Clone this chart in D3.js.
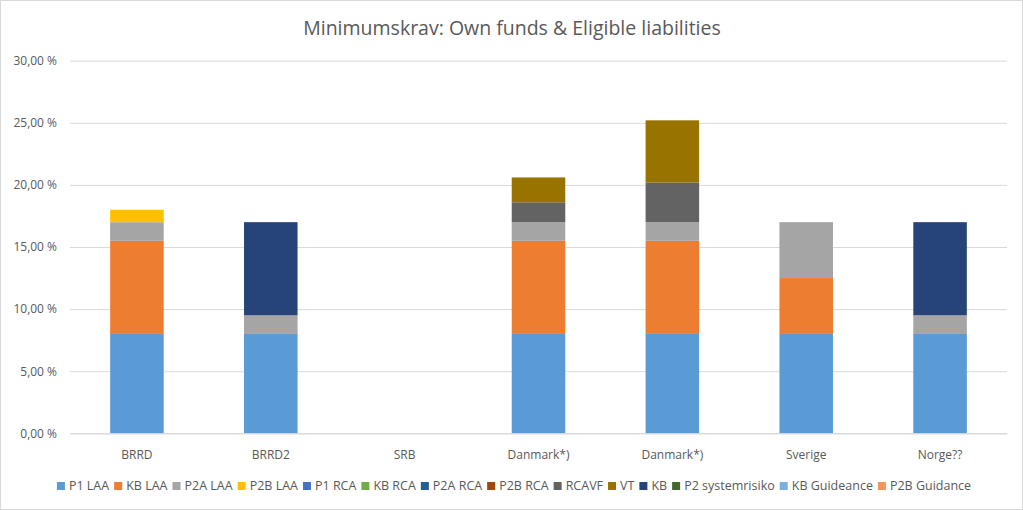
<!DOCTYPE html>
<html><head><meta charset="utf-8">
<script src="https://cdn.jsdelivr.net/npm/d3@7"></script>
<style>body{margin:0;background:#fff}svg{display:block}text{font-family:"Open Sans","Liberation Sans",sans-serif;fill:#595959}</style>
</head><body><svg id="c" width="1023" height="510"></svg>
<script>
const categories = ["BRRD","BRRD2","SRB","Danmark*)","Danmark*)","Sverige","Norge??"];
const seriesNames = ["P1 LAA","KB LAA","P2A LAA","P2B LAA","P1 RCA","KB RCA","P2A RCA","P2B RCA","RCAVF","VT","KB","P2 systemrisiko","KB Guideance","P2B Guidance"];
const seriesColors = ["#5B9BD5","#ED7D31","#A5A5A5","#FFC000","#4472C4","#70AD47","#255E91","#9E480E","#636363","#997300","#264478","#43682B","#7CAFDD","#F1975A"];
// values in %, per series, per category
const P1_LAA  = [8, 8, 0, 8, 8, 8, 8];
const KB_LAA  = [7.5, 0, 0, 7.5, 7.5, 4.5, 0];
const P2A_LAA = [1.5, 1.5, 0, 1.5, 1.5, 4.5, 1.5];
const P2B_LAA = [1, 0, 0, 0, 0, 0, 0];
const P1_RCA  = [0, 0, 0, 0, 0, 0, 0];
const KB_RCA  = [0, 0, 0, 0, 0, 0, 0];
const P2A_RCA = [0, 0, 0, 0, 0, 0, 0];
const P2B_RCA = [0, 0, 0, 0, 0, 0, 0];
const RCAVF   = [0, 0, 0, 1.6, 3.2, 0, 0];
const VT      = [0, 0, 0, 2.0, 5.0, 0, 0];
const KB      = [0, 7.5, 0, 0, 0, 0, 7.5];
const P2_SYS  = [0, 0, 0, 0, 0, 0, 0];
const KB_GUID = [0, 0, 0, 0, 0, 0, 0];
const P2B_GUID= [0, 0, 0, 0, 0, 0, 0];
const yTicks = [0,5,10,15,20,25,30];
const title = "Minimumskrav: Own funds & Eligible liabilities";

const seriesValues = [P1_LAA,KB_LAA,P2A_LAA,P2B_LAA,P1_RCA,KB_RCA,P2A_RCA,P2B_RCA,RCAVF,VT,KB,P2_SYS,KB_GUID,P2B_GUID];
const table = categories.map((c,i)=>{const o={idx:i}; seriesNames.forEach((s,j)=>o[s]=seriesValues[j][i]); return o;});
const stack = d3.stack().keys(seriesNames)(table);

const svg = d3.select("#c");
svg.append("rect").attr("x",0.5).attr("y",0.5).attr("width",1022).attr("height",509).attr("fill","#fff").attr("stroke","#D9D9D9");

const m = {l:70, r:1007, t:60.7, b:433.3};
const x = d3.scaleBand().domain(d3.range(categories.length)).range([m.l,m.r]).paddingInner(0.6).paddingOuter(0.3);
const y = d3.scaleLinear().domain([0,30]).range([m.b,m.t]);

svg.append("text").attr("x",512).attr("y",35).attr("text-anchor","middle").style("font-size","19.5px").text(title);

const yAxis = svg.append("g").attr("transform",`translate(${m.l},0)`)
  .call(d3.axisLeft(y).tickValues(yTicks).tickSize(-(m.r-m.l)).tickPadding(13)
    .tickFormat(d=>d.toFixed(2).replace(".",",")+" %"));
yAxis.select(".domain").remove();
yAxis.selectAll("line").attr("stroke","#D9D9D9");
yAxis.selectAll("text").style("font-size","12px").style("fill","#595959").attr("font-family",null);

const g = svg.append("g");
stack.forEach((s,j)=>{
  g.selectAll(null).data(s.filter(d=>d[1]-d[0]>0)).enter().append("rect")
    .attr("x",d=>x(d.data.idx)).attr("width",x.bandwidth())
    .attr("y",d=>y(d[1])).attr("height",d=>y(d[0])-y(d[1]))
    .attr("fill",seriesColors[j]);
});

const xAxis = svg.append("g").attr("transform",`translate(0,${m.b})`)
  .call(d3.axisBottom(x).tickSize(0).tickPadding(17).tickFormat(i=>categories[i]));
xAxis.select(".domain").attr("stroke","#D9D9D9");
xAxis.selectAll("text").style("font-size","12px").style("fill","#595959");

// legend
const lg = svg.append("g");
const items = [];
seriesNames.forEach((s,j)=>{
  const it = lg.append("g");
  it.append("rect").attr("x",0).attr("y",-8).attr("width",8).attr("height",8).attr("fill",seriesColors[j]);
  const t = it.append("text").attr("x",12).attr("y",0).style("font-size","12.5px").text(s);
  items.push({it, w: 12 + t.node().getComputedTextLength()});
});
const gap = 5;
const total = d3.sum(items,d=>d.w) + gap*(items.length-1);
let sx = 514 - total/2;
items.forEach(d=>{d.it.attr("transform",`translate(${sx},490)`); sx += d.w + gap;});
</script></body></html>
